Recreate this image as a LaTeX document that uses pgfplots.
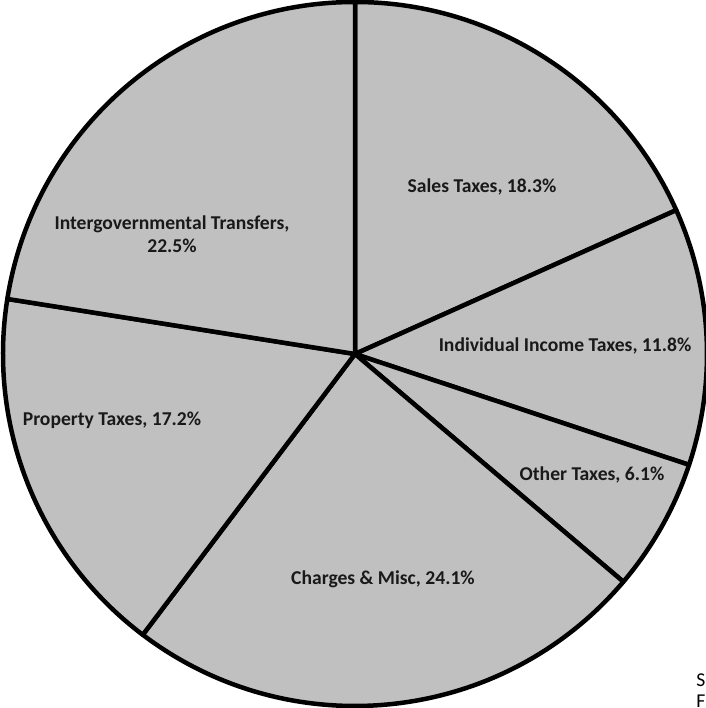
\documentclass[border=0pt]{standalone}
\usepackage{pgfplots}
\pgfplotsset{compat=1.18}
\usepackage{fontspec}
\setmainfont{Carlito}
\definecolor{piegray}{RGB}{192,192,192}

% slice data: start angle, end angle (degrees, clockwise from top)
% Sales 18.3, Individual Income 11.8, Other 6.1, Charges 24.1, Property 17.2, Intergov 22.5
\newcommand{\slice}[2]{%
  \filldraw[fill=piegray, draw=black, line width=2.25pt, line join=round]
    (axis cs:355,354) -- ++(#1:176pt) arc[start angle=#1, end angle=#2, radius=176pt] -- cycle;}

\begin{document}
\begin{tikzpicture}
\begin{axis}[
  hide axis,
  scale only axis,
  width=353pt, height=354pt,
  xmin=0, xmax=706, ymin=0, ymax=708,
  clip=false,
]
\addplot[draw=none] coordinates {(0,0) (706,708)};
\slice{90}{24.12}
\slice{24.12}{-18.36}
\slice{-18.36}{-40.32}
\slice{-40.32}{-127.08}
\slice{-127.08}{-189}
\slice{-189}{-270}
\begin{scope}[every node/.style={font=\fontsize{9.8pt}{11.5pt}\selectfont\bfseries, text=black!90}]
\node at (axis cs:482,521) {Sales Taxes, 18.3\%};
\node at (axis cs:565,362) {Individual Income Taxes, 11.8\%};
\node at (axis cs:592,233) {Other Taxes, 6.1\%};
\node at (axis cs:383,129) {Charges \& Misc, 24.1\%};
\node at (axis cs:112,288) {Property Taxes, 17.2\%};
\node[align=center] at (axis cs:172,474) {Intergovernmental Transfers,\\22.5\%};
\end{scope}
\node[anchor=west, inner sep=0pt, font=\fontsize{9.8pt}{11pt}\selectfont] at (axis cs:696,28) {Source:};
\node[anchor=west, inner sep=0pt, font=\fontsize{9.8pt}{11pt}\selectfont] at (axis cs:696,7) {F};
\end{axis}
\pgfresetboundingbox
\path[use as bounding box] (current axis.south west) rectangle (current axis.north east);
\end{tikzpicture}
\end{document}
